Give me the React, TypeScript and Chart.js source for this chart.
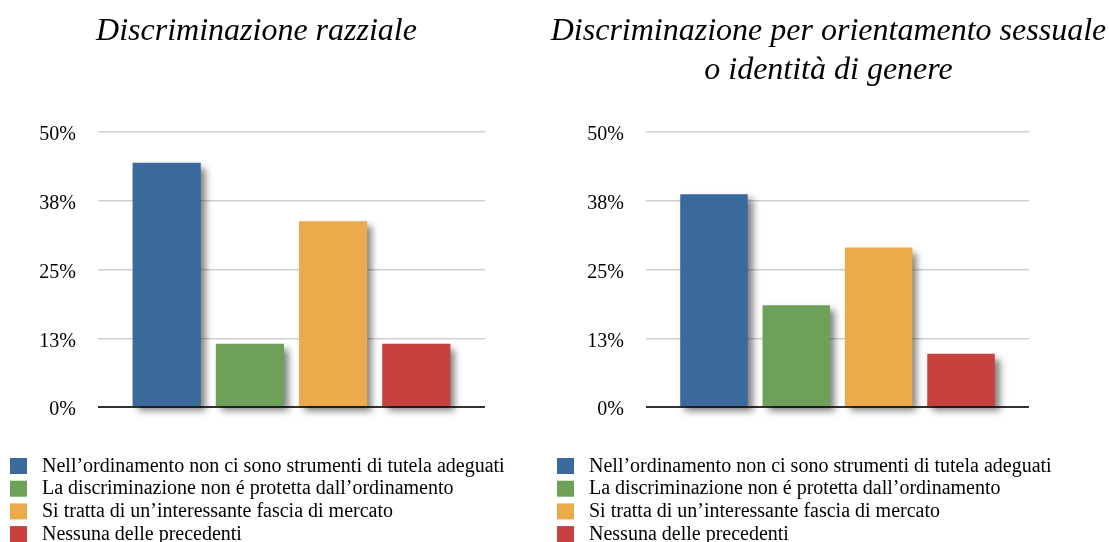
import React, { useEffect, useRef } from "react";
import { Chart, registerables } from "chart.js";

Chart.register(...registerables);

const legendLabels = [
  "Nell\u2019ordinamento non ci sono strumenti di tutela adeguati",
  "La discriminazione non \u00e9 protetta dall\u2019ordinamento",
  "Si tratta di un\u2019interessante fascia di mercato",
  "Nessuna delle precedenti",
];
const seriesColors = ["#3a6a9c", "#6da158", "#ebab4b", "#c9413e"];
const razzialeValues = [44.4, 11.5, 33.8, 11.5];
const orientamentoValues = [38.7, 18.5, 29.0, 9.7];
const yTicks = [0, 12.5, 25, 37.5, 50];
const titleLeft = ["Discriminazione razziale"];
const titleRight = ["Discriminazione per orientamento sessuale", "o identit\u00e0 di genere"];

const SERIF = "'Liberation Serif', 'DejaVu Serif', serif";

const shadowPlugin = {
  id: "barShadow",
  beforeDatasetDraw(chart: any) {
    const ctx = chart.ctx;
    ctx.save();
    ctx.shadowColor = "rgba(0,0,0,0.5)";
    ctx.shadowBlur = 7;
    ctx.shadowOffsetX = 5;
    ctx.shadowOffsetY = 5;
  },
  afterDatasetDraw(chart: any) {
    chart.ctx.restore();
  },
};

const legendPlugin = {
  id: "listLegend",
  afterDraw(chart: any, _args: any, opts: any) {
    const ctx = chart.ctx;
    ctx.save();
    const top = chart.chartArea.bottom + opts.offsetY;
    chart.data.datasets.forEach((ds: any, i: number) => {
      const y = top + i * opts.rowHeight;
      ctx.fillStyle = ds.backgroundColor;
      ctx.fillRect(opts.x, y, 17, 16);
      ctx.fillStyle = "#000";
      ctx.font = `20px ${SERIF}`;
      ctx.textBaseline = "middle";
      ctx.textAlign = "left";
      ctx.fillText(ds.label, opts.x + opts.textGap, y + 8.5);
    });
    ctx.restore();
  },
};

function Panel(props: {
  values: number[];
  title: string[];
  left: number;
  width: number;
  rightPad: number;
  titlePadBottom: number;
  legendX: number;
}) {
  const ref = useRef<HTMLCanvasElement>(null);
  useEffect(() => {
    if (!ref.current) return;
    const chart = new Chart(ref.current, {
      type: "bar",
      data: {
        labels: [""],
        datasets: legendLabels.map((label, i) => ({
          label,
          data: [props.values[i]],
          backgroundColor: seriesColors[i],
          borderWidth: 0,
          clip: false as any,
        })),
      },
      options: {
        responsive: false,
        animation: false,
        layout: { padding: { bottom: 135 } },
        datasets: {
          bar: { categoryPercentage: 0.86, barPercentage: 0.82 },
        },
        plugins: {
          legend: { display: false },
          tooltip: { enabled: false },
          title: {
            display: true,
            text: props.title,
            color: "#000",
            font: { family: SERIF, size: 32, style: "italic", weight: "normal", lineHeight: 1.19 },
            padding: { top: 13, bottom: props.titlePadBottom },
          },
          listLegend: { x: props.legendX, offsetY: 51, rowHeight: 22.7, textGap: 32 },
        } as any,
        scales: {
          x: {
            grid: { display: false },
            ticks: { display: false },
            border: { display: false },
            afterFit: (s: any) => {
              s.height = 0;
            },
          },
          y: {
            min: 0,
            max: 50,
            afterBuildTicks: (s: any) => {
              s.ticks = yTicks.map((v) => ({ value: v }));
            },
            ticks: {
              padding: 22,
              labelOffset: 3,
              color: "#000",
              font: { family: SERIF, size: 20 },
              callback: (v: any) => Math.round(Number(v)) + "%",
            },
            grid: {
              drawTicks: false,
              color: (c: any) => (c.tick && c.tick.value === 0 ? "#333" : "#cfcfcf"),
              lineWidth: (c: any) => (c.tick && c.tick.value === 0 ? 2 : 1.5),
            },
            border: { display: false },
            afterFit: (s: any) => {
              s.width = 98;
            },
          },
          y2: {
            position: "right",
            display: true,
            grid: { display: false },
            ticks: { display: false },
            border: { display: false },
            afterFit: (s: any) => {
              s.width = props.rightPad;
            },
          },
        },
      },
      plugins: [shadowPlugin, legendPlugin],
    });
    return () => chart.destroy();
  }, []);
  return (
    <canvas
      ref={ref}
      width={props.width}
      height={542}
      style={{ position: "absolute", left: props.left, top: 0, width: props.width, height: 542 }}
    />
  );
}

export default function App() {
  return (
    <div style={{ position: "fixed", left: 0, top: 0, width: 1109, height: 542, background: "#fff" }}>
      <Panel values={razzialeValues} title={titleLeft} left={0} width={513} rightPad={28} titlePadBottom={81} legendX={10} />
      <Panel values={orientamentoValues} title={titleRight} left={548} width={561} rightPad={80} titlePadBottom={43} legendX={9} />
    </div>
  );
}
